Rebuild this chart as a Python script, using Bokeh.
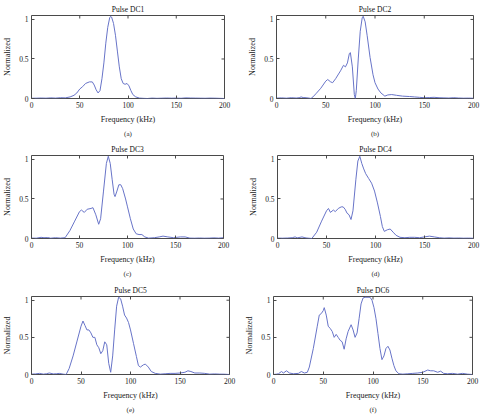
import math
from bokeh.plotting import figure
from bokeh.layouts import column, row
from bokeh.models import Range1d, FixedTicker, Title, CustomJSTickFormatter
from bokeh.embed import file_html
from bokeh.resources import INLINE

# ---------------- data ----------------
x_ticks = [0, 50, 100, 150, 200]
y_ticks = [0, 0.5, 1]

titles = ["Pulse DC1", "Pulse DC2", "Pulse DC3", "Pulse DC4", "Pulse DC5", "Pulse DC6"]
tags = ["(a)", "(b)", "(c)", "(d)", "(e)", "(f)"]

f_dc1 = [0, 5, 10, 15, 20, 25, 30, 35, 40, 44, 47, 50, 53, 56, 60, 63, 65, 67, 69, 71, 73, 75, 77, 79, 81, 82, 83, 85,
         87, 89, 91, 93, 95, 97, 99, 101, 103, 105, 108, 112, 116, 120, 125, 130, 135, 140, 145, 150, 155, 160, 165,
         170, 175, 180, 185, 190, 195, 200]
a_dc1 = [0.003, 0.004, 0.006, 0.004, 0.008, 0.005, 0.01, 0.008, 0.02, 0.04, 0.07, 0.12, 0.15, 0.19, 0.21, 0.21, 0.17,
         0.11, 0.07, 0.1, 0.25, 0.45, 0.7, 0.9, 1.02, 1.04, 1.03, 0.95, 0.8, 0.6, 0.4, 0.25, 0.19, 0.18, 0.19, 0.16,
         0.1, 0.05, 0.02, 0.005, 0.002, 0.0, 0.005, 0.002, 0.004, 0.006, 0.004, 0.005, 0.003, 0.008, 0.006, 0.005,
         0.004, 0.003, 0.005, 0.004, 0.002, 0.0]

f_dc2 = [0, 5, 10, 15, 20, 23, 25, 27, 30, 33, 35, 37, 40, 45, 50, 52, 55, 57, 60, 65, 68, 70, 72, 74, 75, 77, 79, 80,
         81, 83, 85, 87, 88, 90, 92, 95, 98, 100, 103, 106, 110, 113, 117, 122, 128, 135, 140, 145, 150, 155, 160,
         165, 170, 175, 180, 185, 190, 195, 200]
a_dc2 = [0.005, 0.008, 0.004, 0.01, 0.006, 0.01, 0.02, 0.012, 0.01, 0.005, 0.0, 0.02, 0.06, 0.13, 0.22, 0.24, 0.21,
         0.2, 0.25, 0.35, 0.42, 0.4, 0.45, 0.57, 0.58, 0.4, 0.05, 0.0, 0.1, 0.5, 0.85, 1.02, 1.04, 0.97, 0.8, 0.52,
         0.3, 0.2, 0.12, 0.07, 0.03, 0.045, 0.05, 0.04, 0.03, 0.025, 0.02, 0.015, 0.01, 0.012, 0.015, 0.01, 0.008,
         0.006, 0.01, 0.006, 0.004, 0.005, 0.003]

f_dc3 = [0, 5, 10, 13, 17, 20, 25, 30, 35, 40, 45, 50, 52, 55, 58, 62, 64, 67, 70, 72, 75, 78, 80, 82, 84, 86, 87, 89,
         91, 93, 95, 98, 100, 103, 106, 109, 112, 115, 118, 122, 128, 133, 137, 142, 148, 155, 160, 165, 170, 175,
         180, 185, 190, 195, 200]
a_dc3 = [0.005, 0.004, 0.015, 0.01, 0.012, 0.004, 0.01, 0.005, 0.01, 0.1, 0.22, 0.34, 0.36, 0.33, 0.37, 0.38, 0.39,
         0.3, 0.18, 0.25, 0.6, 0.95, 1.04, 0.95, 0.75, 0.56, 0.53, 0.6, 0.68, 0.68, 0.63, 0.5, 0.4, 0.25, 0.12, 0.06,
         0.05, 0.05, 0.02, 0.005, 0.01, 0.02, 0.03, 0.02, 0.01, 0.02, 0.02, 0.005, 0.004, 0.006, 0.004, 0.005, 0.008,
         0.005, 0.01]

f_dc4 = [0, 5, 10, 15, 18, 20, 23, 25, 28, 30, 35, 40, 45, 50, 52, 54, 57, 59, 62, 65, 67, 69, 71, 73, 75, 77, 80, 82,
         84, 86, 88, 90, 93, 96, 99, 102, 105, 107, 109, 112, 115, 118, 121, 125, 130, 135, 140, 145, 150, 155, 160,
         165, 170, 175, 180, 185, 190, 195, 200]
a_dc4 = [0.005, 0.004, 0.006, 0.01, 0.02, 0.008, 0.015, 0.02, 0.01, 0.006, 0.0, 0.08, 0.22, 0.35, 0.38, 0.33, 0.36,
         0.34, 0.38, 0.4, 0.4, 0.37, 0.32, 0.3, 0.24, 0.35, 0.75, 0.98, 1.04, 0.95, 0.88, 0.82, 0.76, 0.7, 0.6, 0.45,
         0.28, 0.15, 0.09, 0.11, 0.12, 0.08, 0.04, 0.015, 0.01, 0.015, 0.015, 0.01, 0.02, 0.03, 0.02, 0.01, 0.005,
         0.008, 0.005, 0.006, 0.004, 0.005, 0.003]

f_dc5 = [0, 4, 8, 12, 15, 18, 22, 25, 28, 32, 35, 38, 42, 46, 50, 52, 54, 56, 58, 60, 62, 64, 66, 68, 70, 72, 74, 76,
         78, 80, 82, 84, 86, 88, 90, 92, 94, 96, 98, 100, 103, 106, 108, 110, 113, 115, 118, 121, 125, 130, 135, 140,
         145, 150, 155, 158, 161, 165, 170, 175, 180, 185, 190, 195, 200]
a_dc5 = [0.005, 0.008, 0.015, 0.005, 0.01, 0.02, 0.008, 0.01, 0.015, 0.005, 0.0, 0.08, 0.25, 0.45, 0.65, 0.72, 0.66,
         0.6, 0.6, 0.56, 0.5, 0.5, 0.4, 0.36, 0.28, 0.32, 0.44, 0.4, 0.15, 0.03, 0.25, 0.6, 0.92, 1.04, 1.02, 0.92,
         0.8, 0.76, 0.7, 0.6, 0.42, 0.24, 0.12, 0.1, 0.13, 0.14, 0.1, 0.04, 0.015, 0.005, 0.01, 0.015, 0.015, 0.02,
         0.03, 0.05, 0.04, 0.02, 0.02, 0.015, 0.005, 0.008, 0.005, 0.004, 0.0]

f_dc6 = [0, 3, 5, 8, 10, 13, 16, 20, 25, 28, 31, 34, 36, 40, 44, 46, 48, 50, 51, 53, 55, 57, 59, 61, 63, 65, 67, 69,
         71, 73, 75, 78, 80, 82, 84, 86, 88, 90, 92, 95, 97, 99, 101, 103, 105, 107, 109, 111, 113, 115, 117, 119,
         121, 123, 126, 130, 135, 140, 145, 150, 155, 158, 161, 165, 168, 171, 175, 180, 185, 190, 195, 200]
a_dc6 = [0.0, 0.005, 0.01, 0.04, 0.02, 0.05, 0.02, 0.01, 0.015, 0.04, 0.02, 0.03, 0.1, 0.35, 0.65, 0.8, 0.82, 0.86,
         0.9, 0.8, 0.65, 0.62, 0.58, 0.5, 0.54, 0.5, 0.46, 0.44, 0.34, 0.48, 0.58, 0.67, 0.6, 0.5, 0.56, 0.75, 0.95,
         1.03, 1.04, 1.04, 1.04, 1.0, 0.9, 0.75, 0.55, 0.35, 0.2, 0.25, 0.35, 0.38, 0.33, 0.22, 0.12, 0.05, 0.01,
         0.005, 0.01, 0.015, 0.02, 0.03, 0.06, 0.05, 0.05, 0.03, 0.045, 0.015, 0.01, 0.015, 0.005, 0.015, 0.005, 0.0]

freqs = [f_dc1, f_dc2, f_dc3, f_dc4, f_dc5, f_dc6]
amps = [a_dc1, a_dc2, a_dc3, a_dc4, a_dc5, a_dc6]

# ---------------- styling / layout ----------------
FONT = "Liberation Serif"
LINE = "#6874c8"
FRAME = "#4a4a4a"
TXT = "#222222"
X0, X1 = 0, 200
Y0, Y1 = 0, 1.05

# (width, height, border left, right, top, bottom)
geom = [
    (240, 140, 27, 16, 14, 42),
    (240, 140, 36, 7, 15, 42),
    (240, 140, 27, 17, 15, 41),
    (240, 140, 37, 7, 15, 42),
    (240, 135, 31, 11, 16, 36),
    (240, 135, 33, 8, 16, 36),
]

fmt = CustomJSTickFormatter(code="return String(tick);")


def style_axis(ax, ticks):
    ax.ticker = FixedTicker(ticks=ticks)
    ax.axis_line_color = None
    ax.major_tick_in = 3
    ax.major_tick_out = 0
    ax.minor_tick_in = 0
    ax.minor_tick_out = 0
    ax.major_tick_line_color = FRAME
    ax.major_tick_line_width = 1
    ax.formatter = fmt
    ax.major_label_text_font = FONT
    ax.major_label_text_font_size = "7.5px"
    ax.major_label_text_color = TXT
    ax.major_label_standoff = 3
    ax.axis_label_text_font = FONT
    ax.axis_label_text_font_style = "normal"
    ax.axis_label_text_font_size = "8px"
    ax.axis_label_text_color = TXT
    ax.axis_label_standoff = 4


def panel(i):
    w, h, bl, br, bt, bb = geom[i]
    p = figure(width=w, height=h, output_backend="svg", toolbar_location=None,
               x_range=Range1d(X0, X1), y_range=Range1d(Y0, Y1),
               min_border_left=bl, min_border_right=br, min_border_top=bt, min_border_bottom=bb,
               x_axis_label="Frequency (kHz)", y_axis_label="Normalized")
    p.title.text = titles[i]
    p.title.align = "center"
    p.title.text_font = FONT
    p.title.text_font_style = "normal"
    p.title.text_font_size = "7.5px"
    p.title.text_color = "#111111"
    p.title.standoff = 3
    p.grid.visible = False
    p.outline_line_color = FRAME
    p.outline_line_width = 1
    p.background_fill_color = "white"
    p.border_fill_color = "white"
    style_axis(p.xaxis[0], x_ticks)
    style_axis(p.yaxis[0], y_ticks)
    # inward ticks on the top and right edges of the box (MATLAB style)
    p.ray(x=x_ticks, y=[Y1] * len(x_ticks), length=3, length_units="screen",
          angle=-math.pi / 2, line_color=FRAME, line_width=1)
    p.ray(x=[X1] * len(y_ticks), y=y_ticks, length=3, length_units="screen",
          angle=math.pi, line_color=FRAME, line_width=1)
    p.add_layout(Title(text=tags[i], align="center", text_font=FONT, text_font_size="7px",
                       text_font_style="normal", text_color=TXT, standoff=3), "below")
    p.line(freqs[i], amps[i], line_color=LINE, line_width=1)
    return p


panels = [panel(i) for i in range(6)]
layout = column(row(panels[0], panels[1]), row(panels[2], panels[3]), row(panels[4], panels[5]))

open("out.html", "w").write(file_html(layout, INLINE))
